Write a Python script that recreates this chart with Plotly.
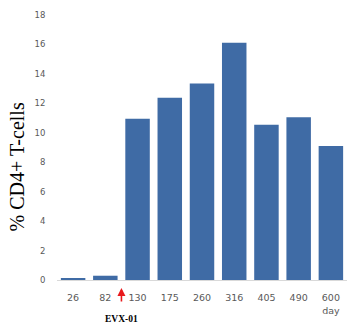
import plotly.graph_objects as go

days = ["26", "82", "130", "175", "260", "316", "405", "490", "600"]
tick_text = ["26", "82", "130", "175", "260", "316", "405", "490", "600<br>day"]
cd4_pct = [0.07, 0.29, 10.95, 12.38, 13.35, 16.11, 10.55, 11.05, 9.1]
y_ticks = [0, 2, 4, 6, 8, 10, 12, 14, 16, 18]

xpos = list(range(len(days)))

fig = go.Figure()
fig.add_trace(go.Bar(x=xpos, y=cd4_pct, marker=dict(color="#3F6BA5", line=dict(width=0)),
                     width=0.76))

fig.update_layout(
    width=351, height=324,
    margin=dict(l=57, r=4, t=15, b=44),
    plot_bgcolor="white", paper_bgcolor="white",
    showlegend=False,
    font=dict(family="DejaVu Sans", color="#595959"),
    xaxis=dict(
        tickmode="array", tickvals=xpos, ticktext=tick_text,
        range=[-0.5, len(days) - 0.5],
        showgrid=False, zeroline=False,
        showline=True, linecolor="#d9d9d9", linewidth=1,
        ticks="outside", ticklen=9, tickcolor="rgba(0,0,0,0)",
        tickfont=dict(size=9.5, color="#595959"),
    ),
    yaxis=dict(
        range=[0, 18], tickvals=y_ticks,
        showgrid=False, zeroline=False, showline=False,
        ticks="outside", ticklen=9, tickcolor="rgba(0,0,0,0)",
        tickfont=dict(size=8.5, color="#595959"),
    ),
)

# y-axis title
fig.add_annotation(
    text="% CD4+ T-cells", xref="paper", yref="paper", x=0, y=0.425,
    xshift=-40, xanchor="center", yanchor="middle", textangle=-90, showarrow=False,
    font=dict(family="Liberation Serif", size=20, color="black"),
)
# EVX-01 arrow
fig.add_annotation(
    x=1.5, y=-0.03, xref="x", yref="paper", ax=0, ay=15, text="",
    showarrow=True, arrowhead=2, arrowsize=1, arrowwidth=1.6, arrowcolor="#e8191c",
)
fig.add_annotation(
    x=1.5, y=-0.147, xref="x", yref="paper", text="<b>EVX-01</b>", showarrow=False,
    xanchor="center", yanchor="middle",
    font=dict(family="Liberation Serif", size=9.5, color="black"),
)

fig.write_html("out.html")
